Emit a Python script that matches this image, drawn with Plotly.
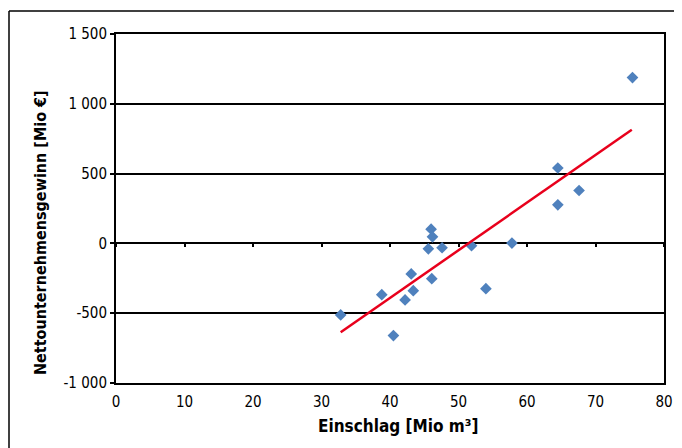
import plotly.graph_objects as go

einschlag = [32.8, 38.8, 40.5, 42.2, 43.1, 43.4, 45.6, 46.0, 46.2, 46.1, 47.6, 51.9, 54.0, 57.8, 64.5, 64.5, 67.6, 75.4]
gewinn = [-512, -367, -660, -405, -219, -339, -39, 102, 47, -253, -31, -17, -324, 2, 540, 276, 379, 1188]
trend_x = [32.8, 75.3]
trend_y = [-636, 814]
x_ticks = [0, 10, 20, 30, 40, 50, 60, 70, 80]
y_ticks = [-1000, -500, 0, 500, 1000, 1500]
y_ticktext = ["-1 000", "-500", "0", "500", "1 000", "1 500"]
x_title = "Einschlag [Mio m³]"
y_title = "Nettounternehmensgewinn [Mio €]"

FONT = "DejaVu Sans Condensed, Liberation Sans Narrow, Roboto, sans-serif"

fig = go.Figure()
fig.add_trace(go.Scatter(
    x=einschlag, y=gewinn, mode="markers",
    marker=dict(symbol="diamond", size=9, color="#4f81bd"),
    showlegend=False, cliponaxis=False))
fig.add_trace(go.Scatter(
    x=trend_x, y=trend_y, mode="lines",
    line=dict(color="#e8001c", width=2.5),
    showlegend=False))

# page has an 8px body margin, so the figure is drawn 8px right/down
OFF = 8
W, H = 682 - OFF, 448 - OFF
L, T = 116 - OFF, 34 - OFF
R = W - (664 - OFF)
B = H - (383 - OFF)
pw, ph = W - L - R, H - T - B


def px(xp):
    return ((xp - OFF) - L) / pw


def py(yp):
    return ((H - B) - (yp - OFF)) / ph


fig.update_layout(
    width=W, height=H,
    margin=dict(l=L, r=R, t=T, b=B, autoexpand=False),
    paper_bgcolor="white", plot_bgcolor="white",
    font=dict(family=FONT, size=15, color="black"),
    xaxis=dict(range=[0, 80], tickvals=x_ticks, showgrid=False, zeroline=False,
               showline=True, linecolor="black", linewidth=2, mirror=True,
               ticks="", ticklabelstandoff=4, automargin=False),
    yaxis=dict(range=[-1000, 1500], tickvals=y_ticks, ticktext=y_ticktext,
               showgrid=True, gridcolor="black", gridwidth=1.5, zeroline=False,
               showline=True, linecolor="black", linewidth=2, mirror=True,
               ticks="outside", ticklen=4, tickcolor="black", tickwidth=1.5,
               automargin=False),
    xaxis2=dict(range=[0, 80], tickvals=x_ticks, overlaying="x", anchor="free",
                position=0.4, showline=False, showgrid=False, zeroline=False,
                ticks="outside", ticklen=3, tickcolor="black", tickwidth=1.5,
                showticklabels=False, side="bottom", automargin=False),
)
fig.add_trace(go.Scatter(x=[0, 80], y=[None, None], xaxis="x2", mode="lines", showlegend=False, hoverinfo="skip"))

fig.add_annotation(text="<b>" + x_title + "</b>", xref="paper", yref="paper",
                   x=px(398), y=py(426), showarrow=False, font=dict(size=17),
                   xanchor="center", yanchor="middle")
fig.add_annotation(text="<b>" + y_title + "</b>", xref="paper", yref="paper",
                   x=px(40), y=py(233), showarrow=False, font=dict(size=16),
                   textangle=-90, xanchor="center", yanchor="middle")

# outer chart frame (top and left edges visible)
fig.add_shape(type="line", xref="paper", yref="paper", x0=px(9), x1=1.2, y0=py(11), y1=py(11),
              line=dict(color="black", width=1.5))
fig.add_shape(type="line", xref="paper", yref="paper", x0=px(9), x1=px(9), y0=-0.3, y1=py(11),
              line=dict(color="black", width=1.5))

fig.write_html("out.html")
